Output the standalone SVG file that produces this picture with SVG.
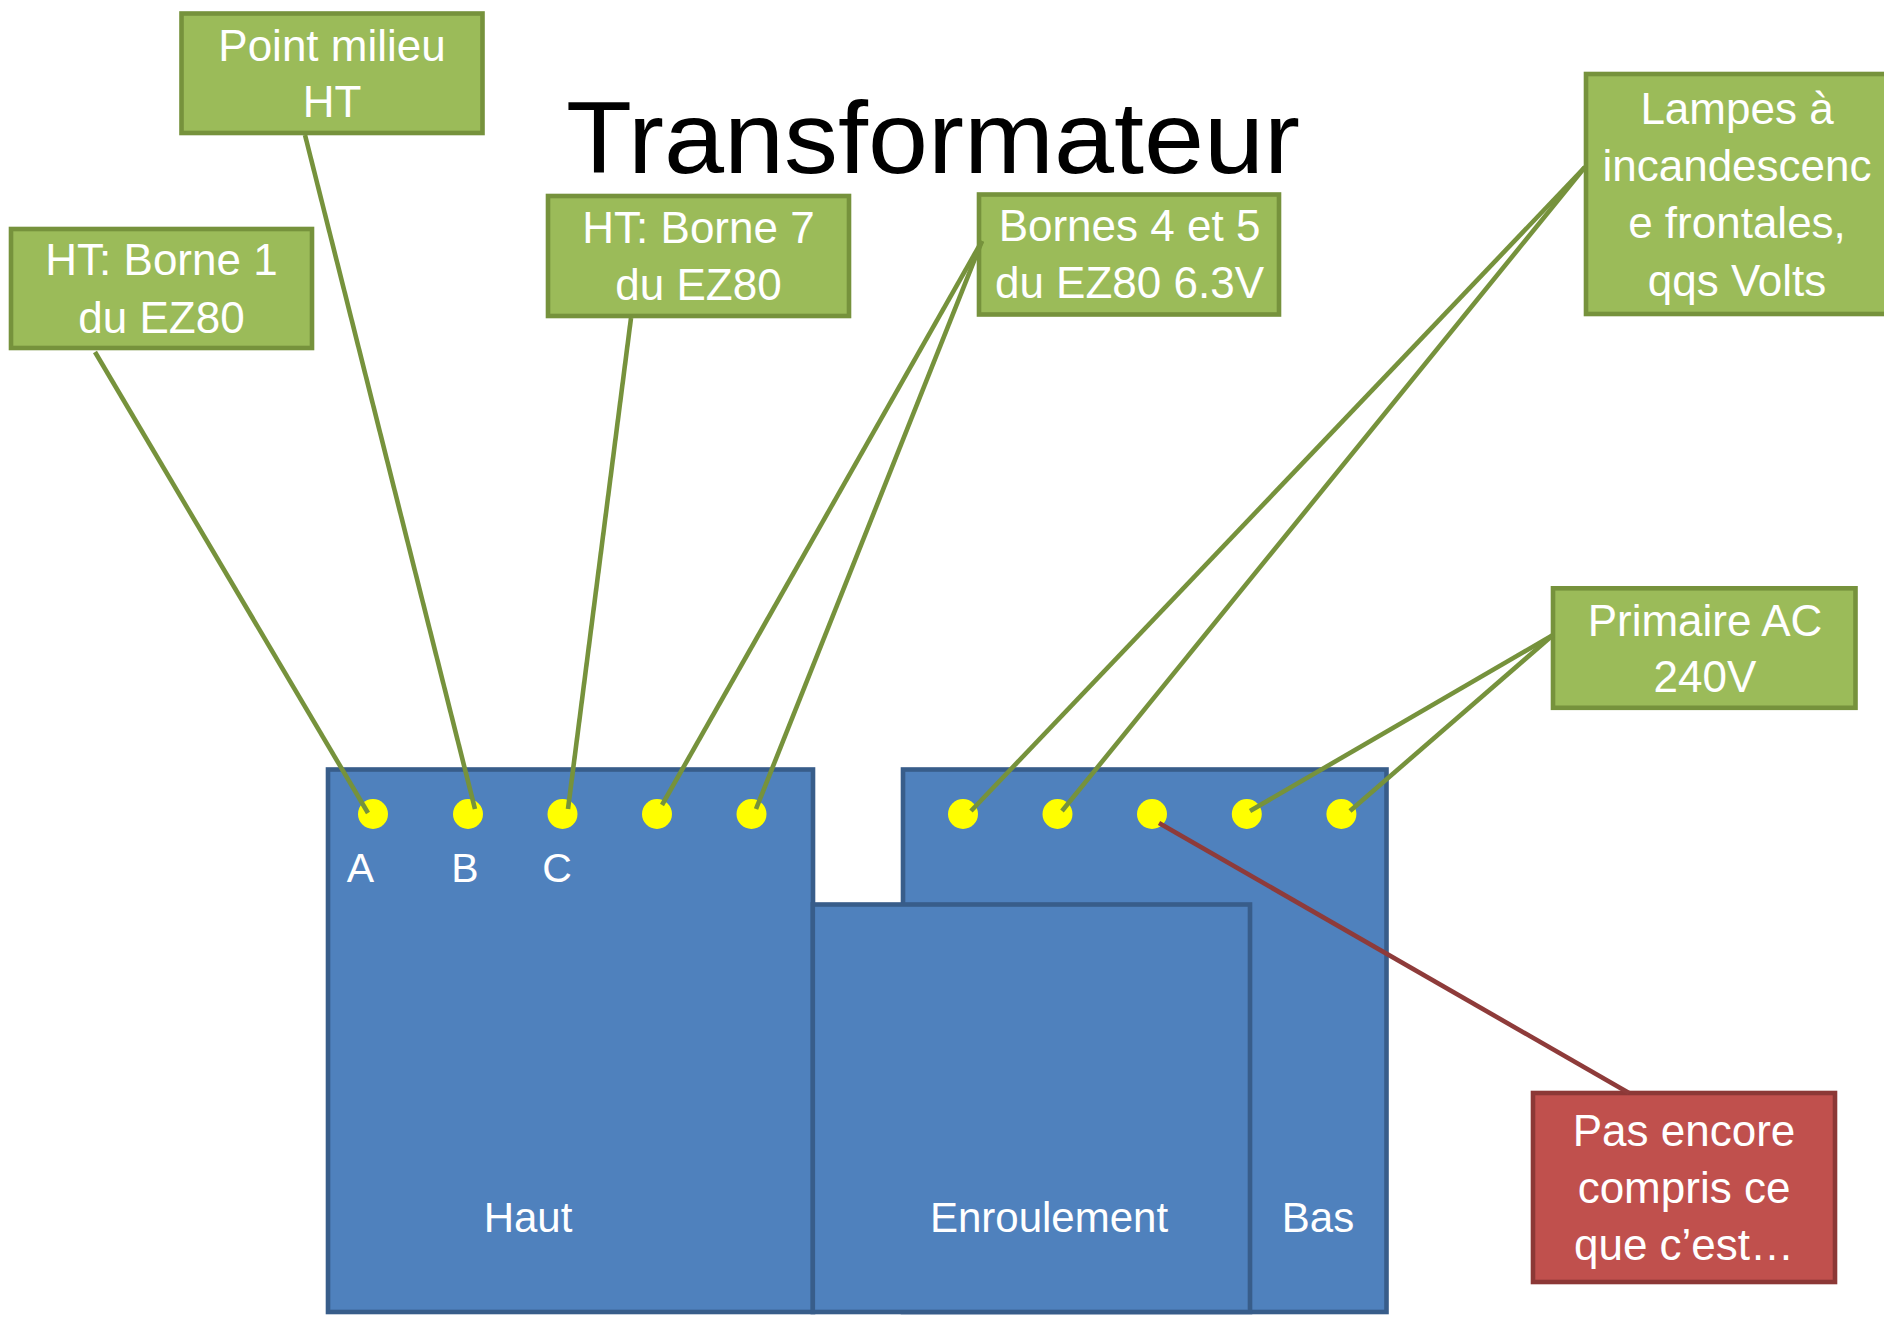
<svg xmlns="http://www.w3.org/2000/svg" width="1884" height="1319" viewBox="0 0 1884 1319">
<style>
  .bg { fill: #ffffff; }
  .blue { fill: #4F81BD; stroke: #385D8A; stroke-width: 4.6; }
  .green { fill: #9BBB59; stroke: #76923C; stroke-width: 4.6; }
  .red { fill: #C0504D; stroke: #8C3836; stroke-width: 4.6; }
  .dot { fill: #FFFF00; }
  .t { font-family: "Liberation Sans", Arial, sans-serif; fill: #ffffff; text-anchor: middle; }
  .lbl { font-size: 44px; }
  .part { font-size: 42px; }
  .pin { font-size: 41px; }
  .title { font-family: "Liberation Sans", Arial, sans-serif; font-size: 102px; fill: #000000; }
  .cg { stroke: #76923C; stroke-width: 4.6; fill: none; }
  .cr { stroke: #8E3B3A; stroke-width: 4.6; fill: none; }
</style>
<rect class="bg" x="0" y="0" width="1884" height="1319"/>

<text id="title" class="title" x="566" y="173" textLength="734" lengthAdjust="spacingAndGlyphs">Transformateur</text>

<g id="bas">
  <rect class="blue" x="903" y="769.5" width="483.5" height="542.5"/>
  <text class="t part" x="1318" y="1232">Bas</text>
</g>
<g id="haut">
  <rect class="blue" x="328" y="769.5" width="485" height="542.5"/>
  <text class="t part" x="528" y="1232">Haut</text>
</g>
<g id="enroulement">
  <rect class="blue" x="812.8" y="904.5" width="437.2" height="407.5"/>
  <text class="t part" x="1049" y="1232">Enroulement</text>
</g>

<g id="pins">
  <ellipse class="dot" cx="373" cy="814" rx="15" ry="15"/>
  <ellipse class="dot" cx="468" cy="814" rx="15" ry="15"/>
  <ellipse class="dot" cx="562.5" cy="814" rx="15" ry="15"/>
  <ellipse class="dot" cx="657" cy="814" rx="15" ry="15"/>
  <ellipse class="dot" cx="751.5" cy="814" rx="15" ry="15"/>
  <ellipse class="dot" cx="963" cy="814" rx="15" ry="15"/>
  <ellipse class="dot" cx="1057.5" cy="814" rx="15" ry="15"/>
  <ellipse class="dot" cx="1152" cy="814" rx="15" ry="15"/>
  <ellipse class="dot" cx="1246.8" cy="814" rx="15" ry="15"/>
  <ellipse class="dot" cx="1341.4" cy="814" rx="15" ry="15"/>
  <text class="t pin" x="360.5" y="882">A</text>
  <text class="t pin" x="465" y="882">B</text>
  <text class="t pin" x="557" y="882">C</text>
</g>

<g id="ht-borne1">
  <rect class="green" x="11" y="229" width="301" height="119"/>
  <text class="t lbl" x="161.5" y="275">HT: Borne 1</text>
  <text class="t lbl" x="161.5" y="333">du EZ80</text>
</g>
<g id="point-milieu">
  <rect class="green" x="181.5" y="13.5" width="301" height="119.5"/>
  <text class="t lbl" x="332" y="61">Point milieu</text>
  <text class="t lbl" x="332" y="117">HT</text>
</g>
<g id="ht-borne7">
  <rect class="green" x="548" y="196" width="301" height="120"/>
  <text class="t lbl" x="698.5" y="243">HT: Borne 7</text>
  <text class="t lbl" x="698.5" y="300">du EZ80</text>
</g>
<g id="bornes-4-5">
  <rect class="green" x="979" y="194.5" width="300" height="120"/>
  <text class="t lbl" x="1129.5" y="241">Bornes 4 et 5</text>
  <text class="t lbl" x="1129.5" y="298">du EZ80 6.3V</text>
</g>
<g id="lampes">
  <rect class="green" x="1586" y="74" width="302" height="240"/>
  <text class="t lbl" x="1737" y="124">Lampes à</text>
  <text class="t lbl" x="1737" y="181">incandescenc</text>
  <text class="t lbl" x="1737" y="238">e frontales,</text>
  <text class="t lbl" x="1737" y="296">qqs Volts</text>
</g>
<g id="primaire">
  <rect class="green" x="1553" y="588.3" width="302.5" height="119.5"/>
  <text class="t lbl" x="1705" y="636">Primaire AC</text>
  <text class="t lbl" x="1705" y="692">240V</text>
</g>
<g id="pas-encore">
  <rect class="red" x="1533" y="1093" width="302" height="189"/>
  <text class="t lbl" x="1684" y="1146">Pas encore</text>
  <text class="t lbl" x="1684" y="1203">compris ce</text>
  <text class="t lbl" x="1684" y="1260">que c’est…</text>
</g>

<g id="connectors">
  <line class="cg" x1="95" y1="352" x2="368" y2="813"/>
  <line class="cg" x1="305" y1="135" x2="475" y2="809"/>
  <line class="cg" x1="631" y1="318" x2="568" y2="809"/>
  <line class="cg" x1="982" y1="241" x2="662" y2="805"/>
  <line class="cg" x1="982" y1="241" x2="756" y2="809"/>
  <line class="cg" x1="1585" y1="167" x2="971" y2="811"/>
  <line class="cg" x1="1585" y1="167" x2="1062" y2="811"/>
  <line class="cg" x1="1553" y1="635" x2="1250" y2="811"/>
  <line class="cg" x1="1553" y1="635" x2="1350" y2="811"/>
  <line class="cr" x1="1159" y1="823" x2="1629" y2="1093"/>
</g>
</svg>
